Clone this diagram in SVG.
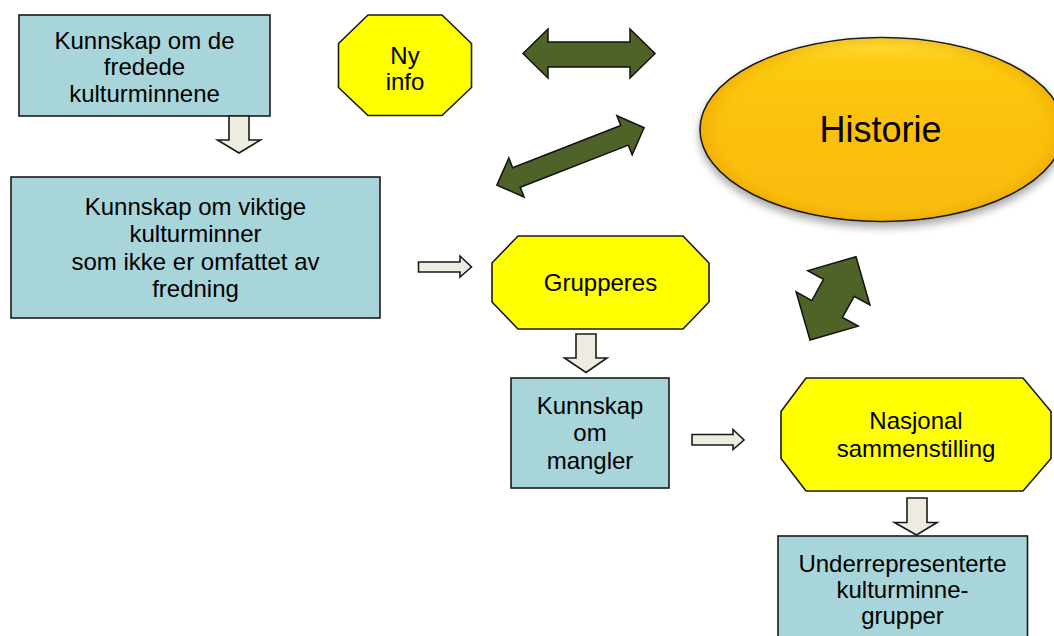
<svg xmlns="http://www.w3.org/2000/svg" width="1054" height="636" viewBox="0 0 1054 636">
  <defs>
    <style>
      .box { fill: #A7D5D9; stroke: #1a1a1a; stroke-width: 1.6; }
      .oct { fill: #FFFF00; stroke: #1a1a1a; stroke-width: 1.6; }
      .txt { font-family: "Liberation Sans", Arial, sans-serif; font-size: 24px; fill: #000; text-anchor: middle; }
      .big { font-family: "Liberation Sans", Arial, sans-serif; font-size: 36px; fill: #000; text-anchor: middle; }
      .flow { fill: #EEECE1; stroke: #1a1a1a; stroke-width: 1.6; stroke-linejoin: miter; }
      .green { fill: #4F6228; stroke: #111; stroke-width: 1.5; stroke-linejoin: miter; }
    </style>
    <linearGradient id="gold" x1="0" y1="0" x2="0" y2="1">
      <stop offset="0" stop-color="#FFE84A"/>
      <stop offset="0.12" stop-color="#FCCB12"/>
      <stop offset="0.5" stop-color="#FBC00A"/>
      <stop offset="1" stop-color="#F8BC08"/>
    </linearGradient>
    <radialGradient id="rim" cx="0.5" cy="0.5" r="0.5">
      <stop offset="0.85" stop-color="#FBC00A" stop-opacity="0"/>
      <stop offset="1" stop-color="#E8A000" stop-opacity="0.5"/>
    </radialGradient>
    <filter id="shadow" x="-10%" y="-10%" width="120%" height="130%">
      <feDropShadow dx="0" dy="5" stdDeviation="4" flood-color="#000" flood-opacity="0.35"/>
    </filter>
  </defs>

  <rect width="1054" height="636" fill="#FFFFFF"/>

  <g id="historie">
    <ellipse cx="882" cy="129.5" rx="182" ry="92" fill="url(#gold)" stroke="#1a1a1a" stroke-width="1.6" filter="url(#shadow)"/>
    <ellipse cx="882" cy="129.5" rx="181" ry="91" fill="url(#rim)"/>
    <text class="big" x="880.5" y="142">Historie</text>
  </g>

  <g id="kunnskap-fredede">
    <rect class="box" x="19" y="15" width="251" height="101"/>
    <text class="txt" x="144.5" y="48.5">Kunnskap om de</text>
    <text class="txt" x="144.5" y="75">fredede</text>
    <text class="txt" x="144.5" y="101.5">kulturminnene</text>
  </g>

  <g id="ny-info">
    <polygon class="oct" points="368,15 442,15 471.5,43.5 471.5,87.5 442,115.5 368,115.5 338.5,87.5 338.5,43.5"/>
    <text class="txt" x="405" y="63.5">Ny</text>
    <text class="txt" x="405" y="90">info</text>
  </g>

  <g id="kunnskap-viktige">
    <rect class="box" x="11" y="177" width="369" height="141"/>
    <text class="txt" x="195.5" y="215">Kunnskap om viktige</text>
    <text class="txt" x="195.5" y="242">kulturminner</text>
    <text class="txt" x="195.5" y="269.5">som ikke er omfattet av</text>
    <text class="txt" x="195.5" y="296.5">fredning</text>
  </g>

  <g id="grupperes">
    <polygon class="oct" points="518,236 683,236 709,263 709,302 683,329 518,329 492,302 492,263"/>
    <text class="txt" x="600.5" y="291">Grupperes</text>
  </g>

  <g id="kunnskap-mangler">
    <rect class="box" x="511" y="378" width="158" height="110"/>
    <text class="txt" x="590" y="413.5">Kunnskap</text>
    <text class="txt" x="590" y="441">om</text>
    <text class="txt" x="590" y="468.5">mangler</text>
  </g>

  <g id="nasjonal">
    <polygon class="oct" points="806,378 1023,378 1051,411.5 1051,458.5 1023,491 806,491 781,458.5 781,411.5"/>
    <text class="txt" x="916" y="428.5">Nasjonal</text>
    <text class="txt" x="916" y="456.5">sammenstilling</text>
  </g>

  <g id="underrepresenterte">
    <rect class="box" x="778" y="536" width="249.5" height="120"/>
    <text class="txt" x="902.5" y="572">Underrepresenterte</text>
    <text class="txt" x="902.5" y="598">kulturminne-</text>
    <text class="txt" x="902.5" y="624">grupper</text>
  </g>

  <g id="connectors">
    <path class="flow" d="M229,116 L249,116 L249,140 L260.5,140 L239,153 L217.5,140 L229,140 Z"/>
    <path class="flow" d="M418.5,262 L460,262 L460,256 L471.5,267 L460,277 L460,272 L418.5,272 Z"/>
    <path class="flow" d="M576,334 L596,334 L596,358 L607,358 L586,372.5 L564.5,358 L576,358 Z"/>
    <path class="flow" d="M692,434.5 L733,434.5 L733,429.5 L744,440 L733,449.5 L733,445 L692,445 Z"/>
    <path class="flow" d="M907,498 L927,498 L927,522.5 L937,522.5 L916.5,535 L894.5,522.5 L907,522.5 Z"/>
    <path class="green" d="M523,53.5 L548,29 L548,42 L630,42 L630,29 L655,53.5 L630,78 L630,67 L548,67 L548,78 Z"/>
    <path class="green" transform="translate(570.5,156.4) rotate(-21.3)" d="M-79,0 L-58,-21 L-58,-10.5 L58,-10.5 L58,-21 L79,0 L58,21 L58,10.5 L-58,10.5 L-58,21 Z"/>
    <path class="green" transform="translate(833,298.4) rotate(-61.1)" d="M-47.6,0 L-12.1,-35.5 L-12.1,-17.5 L12.1,-17.5 L12.1,-35.5 L47.6,0 L12.1,35.5 L12.1,17.5 L-12.1,17.5 L-12.1,35.5 Z"/>
  </g>
</svg>
